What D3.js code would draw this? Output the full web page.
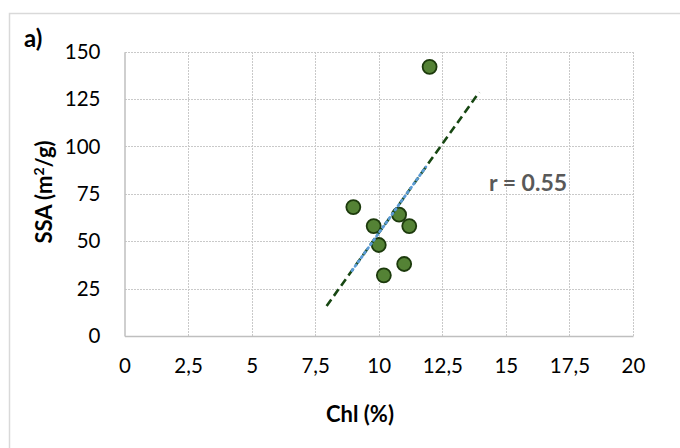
<!DOCTYPE html>
<html><head><meta charset="utf-8">
<script src="https://cdn.jsdelivr.net/npm/d3@7"></script>
<style>body{margin:0;background:#fff}svg{display:block}text{font-family:Lato,"Open Sans",sans-serif}</style>
</head><body>
<svg id="c" width="680" height="448"></svg>
<script>
const chl = [12, 9, 9.8, 10.8, 11.2, 10, 11, 10.2];
const ssa = [142, 68, 58, 64, 58, 48, 38, 32];
const trendX = [7.95, 13.95];
const trendY = [15.8, 128.6];
const fitX = [8.95, 11.85];
const fitY = [34.5, 89.2];
const xTicks = [0, 2.5, 5, 7.5, 10, 12.5, 15, 17.5, 20];
const xTickLabels = ["0", "2,5", "5", "7,5", "10", "12,5", "15", "17,5", "20"];
const yTicks = [0, 25, 50, 75, 100, 125, 150];

const svg = d3.select("#c");
svg.append("rect").attr("x", 9.5).attr("y", 13.5).attr("width", 680).attr("height", 450)
  .attr("fill", "#fff").attr("stroke", "#d9d9d9").attr("stroke-width", 1.5);

const x = d3.scaleLinear().domain([0, 20]).range([124.5, 633]);
const y = d3.scaleLinear().domain([0, 150]).range([336, 51.7]);
const px = v => Math.round(v) + 0.5;

// gridlines
const g = svg.append("g").attr("shape-rendering", "crispEdges");
g.selectAll(".hg").data(yTicks.filter(d => d > 0)).join("line")
  .attr("x1", x(0)).attr("x2", x(20)).attr("y1", d => px(y(d))).attr("y2", d => px(y(d)))
  .attr("stroke", "#c9c9c9").attr("stroke-width", 1).attr("stroke-dasharray", "2 1");
g.selectAll(".vg").data(xTicks.filter(d => d > 0)).join("line")
  .attr("x1", d => px(x(d))).attr("x2", d => px(x(d))).attr("y1", y(0)).attr("y2", y(150))
  .attr("stroke", "#c9c9c9").attr("stroke-width", 1).attr("stroke-dasharray", "2 1");

// axes
const xAxis = d3.axisBottom(x).tickValues(xTicks).tickFormat((d, i) => xTickLabels[i]).tickSize(0).tickPadding(22);
const gx = svg.append("g").attr("transform", `translate(0,${y(0)})`).call(xAxis);
gx.select(".domain").attr("stroke", "#bfbfbf").attr("stroke-width", 1.5);
gx.selectAll("text").attr("font-size", 20.5).attr("fill", "#000").attr("font-family", "Lato");

const yAxis = d3.axisLeft(y).tickValues(yTicks).tickSize(0).tickPadding(24);
const gy = svg.append("g").attr("transform", `translate(${x(0)},0)`).call(yAxis);
gy.select(".domain").attr("stroke", "#bfbfbf").attr("stroke-width", 1.5);
gy.selectAll("text").attr("font-size", 20.5).attr("fill", "#000").attr("font-family", "Lato");

// points
const pts = chl.map((c, i) => ({c, s: ssa[i]}));
svg.append("g").selectAll("circle").data(pts).join("circle")
  .attr("cx", d => x(d.c)).attr("cy", d => y(d.s)).attr("r", 7)
  .attr("fill", "#548235").attr("stroke", "#1c3a0c").attr("stroke-width", 1.8);

// trend lines
const line = d3.line().x(d => x(d[0])).y(d => y(d[1]));
svg.append("path").attr("d", line(trendX.map((v, i) => [v, trendY[i]])))
  .attr("fill", "none").attr("stroke", "#174712").attr("stroke-width", 2.6).attr("stroke-dasharray", "8 4.5");
svg.append("path").attr("d", line(fitX.map((v, i) => [v, fitY[i]])))
  .attr("fill", "none").attr("stroke", "#5b9bd5").attr("stroke-width", 2.8)
  .attr("stroke-linecap", "round").attr("stroke-dasharray", "1.6 3.7");

// texts
svg.append("text").attr("x", 24).attr("y", 47).attr("font-size", 24).attr("font-weight", "bold").text("a)");
svg.append("text").attr("x", 360).attr("y", 422).attr("text-anchor", "middle").attr("font-size", 22).attr("font-weight", "bold").text("Chl (%)");
const yt = svg.append("text").attr("transform", "translate(52,192) rotate(-90)").attr("text-anchor", "middle")
  .attr("font-size", 22).attr("font-weight", "bold");
yt.append("tspan").text("SSA (m");
yt.append("tspan").attr("font-size", 14).attr("dy", -8).text("2");
yt.append("tspan").attr("dy", 8).text("/g)");
svg.append("text").attr("x", 489).attr("y", 191).attr("font-size", 23).attr("font-weight", "bold").attr("fill", "#595959").text("r = 0.55");
</script>
</body></html>
